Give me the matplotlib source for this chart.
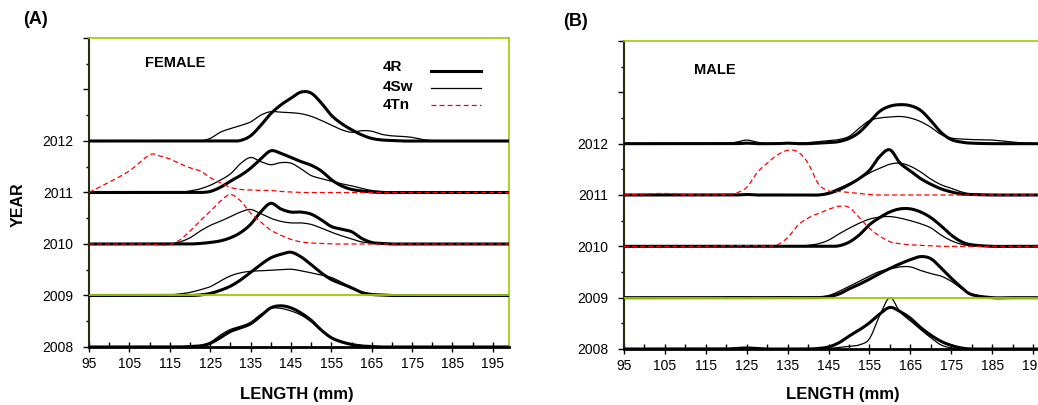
import numpy as np
import matplotlib
matplotlib.use('Agg')
import matplotlib.pyplot as plt

plt.rcParams['font.family'] = ['Liberation Sans', 'DejaVu Sans']
plt.rcParams['lines.scale_dashes'] = False

# length classes (mm), shared by all series
length = [95, 100, 105, 110, 112.5, 115, 117.5, 120, 122.5,
          125, 127.5, 130, 132.5, 135, 137.5, 140, 142.5, 145,
          147.5, 150, 152.5, 155, 157.5, 160, 162.5, 165, 167.5,
          170, 172.5, 175, 177.5, 180, 185, 190, 195, 200]
years = [2008, 2009, 2010, 2011, 2012]
labels = ['4R', '4Sw', '4Tn']

# relative frequency (fraction of one year step) - FEMALE
f2012_4r = [0, 0, 0, 0, 0, 0, 0, 0, 0,
            0, 0, 0, 0.01, 0.1, 0.3, 0.53, 0.7, 0.83,
            0.95, 0.93, 0.74, 0.5, 0.34, 0.22, 0.12, 0.05, 0.02,
            0.01, 0, 0, 0, 0, 0, 0, 0, 0]
f2012_4sw = [0, 0, 0, 0, 0, 0, 0, 0, 0,
             0.05, 0.17, 0.24, 0.3, 0.37, 0.5, 0.57, 0.56, 0.55,
             0.53, 0.48, 0.4, 0.31, 0.22, 0.17, 0.2, 0.19, 0.13,
             0.1, 0.09, 0.07, 0.03, 0.01, 0, 0, 0, 0]
f2011_4r = [0, 0, 0, 0, 0, 0, 0, 0, 0,
            0.02, 0.1, 0.22, 0.33, 0.47, 0.65, 0.81, 0.76, 0.68,
            0.6, 0.53, 0.42, 0.25, 0.13, 0.06, 0.03, 0.01, 0,
            0, 0, 0, 0, 0, 0, 0, 0, 0]
f2011_4sw = [0, 0, 0, 0, 0, 0, 0, 0.03, 0.07,
             0.14, 0.24, 0.36, 0.56, 0.68, 0.6, 0.54, 0.58, 0.57,
             0.46, 0.33, 0.27, 0.22, 0.17, 0.13, 0.08, 0.04, 0.02,
             0.01, 0, 0, 0, 0, 0, 0, 0, 0]
f2011_4tn = [0, 0.2, 0.42, 0.73, 0.71, 0.65, 0.56, 0.48, 0.42,
             0.29, 0.19, 0.1, 0.06, 0.05, 0.04, 0.04, 0.02, 0.01,
             0, 0, 0, 0, 0, 0, 0, 0, 0,
             0, 0, 0, 0, 0, 0, 0, 0, 0]
f2010_4r = [0, 0, 0, 0, 0, 0, 0, 0, 0.01,
            0.03, 0.06, 0.12, 0.22, 0.38, 0.62, 0.79, 0.68, 0.62,
            0.62, 0.58, 0.47, 0.34, 0.29, 0.24, 0.11, 0.03, 0.01,
            0, 0, 0, 0, 0, 0, 0, 0, 0]
f2010_4sw = [0, 0, 0, 0, 0, 0, 0.04, 0.12, 0.25,
             0.36, 0.44, 0.53, 0.62, 0.67, 0.59, 0.5, 0.44, 0.41,
             0.41, 0.38, 0.31, 0.23, 0.16, 0.1, 0.04, 0.02, 0.01,
             0, 0, 0, 0, 0, 0, 0, 0, 0]
f2010_4tn = [0, 0, 0, 0, -0.02, -0.01, 0.08, 0.25, 0.45,
             0.63, 0.83, 0.96, 0.84, 0.6, 0.43, 0.27, 0.17, 0.09,
             0.04, 0.02, 0.01, 0, 0, 0, 0, 0, 0,
             0, 0, 0, 0, 0, 0, 0, 0, 0]
f2009_4r = [0, 0, 0, 0, 0, 0, 0, 0, 0.01,
            0.04, 0.1, 0.18, 0.3, 0.45, 0.6, 0.73, 0.8, 0.84,
            0.75, 0.6, 0.44, 0.31, 0.23, 0.15, 0.06, 0.02, 0.01,
            0, 0, 0, 0, 0, 0, 0, 0, 0]
f2009_4sw = [0, 0, 0, 0, 0, 0.01, 0.03, 0.06, 0.11,
             0.17, 0.28, 0.38, 0.44, 0.47, 0.48, 0.49, 0.5, 0.51,
             0.48, 0.44, 0.4, 0.35, 0.26, 0.16, 0.07, 0.02, 0.01,
             0, 0, 0, 0, 0, 0, 0, 0, 0]
f2008_4r = [0, 0, 0, 0, 0, 0, 0, 0.01, 0.02,
            0.07, 0.18, 0.3, 0.37, 0.45, 0.6, 0.76, 0.8, 0.76,
            0.66, 0.52, 0.33, 0.18, 0.1, 0.05, 0.02, 0.01, 0,
            0, 0, 0, 0, 0, 0, 0, 0, 0]
f2008_4sw = [0, 0, 0, 0, 0, 0, 0, 0.01, 0.03,
             0.09, 0.23, 0.34, 0.4, 0.48, 0.63, 0.75, 0.75, 0.7,
             0.62, 0.49, 0.32, 0.19, 0.11, 0.06, 0.03, 0.01, 0,
             0, 0, 0, 0, 0, 0, 0, 0, 0]

# MALE
m2012_4r = [0, 0, 0, 0, 0, 0, 0, 0, 0,
            0.01, 0, 0, 0, 0.01, 0, 0, 0.01, 0.02,
            0.04, 0.1, 0.22, 0.42, 0.63, 0.73, 0.76, 0.74, 0.65,
            0.45, 0.22, 0.08, 0.03, 0.01, 0, 0, 0, 0]
m2012_4sw = [0, 0, 0, 0, 0, 0, 0, 0, 0.03,
             0.07, 0.03, 0, 0.01, 0.02, 0.01, 0.02, 0.04, 0.06,
             0.08, 0.14, 0.3, 0.45, 0.5, 0.52, 0.53, 0.5, 0.43,
             0.32, 0.18, 0.11, 0.09, 0.08, 0.07, 0.03, 0, 0]
m2011_4r = [0, 0, 0, 0, 0, 0, 0, 0, 0,
            0.01, 0, 0, 0, 0, 0, 0, 0, 0.03,
            0.1, 0.2, 0.32, 0.48, 0.75, 0.88, 0.62, 0.47, 0.32,
            0.21, 0.12, 0.06, 0.02, 0.01, 0, 0, 0, 0]
m2011_4sw = [0, 0, 0, 0, 0, 0, 0, 0, 0,
             0, 0, 0, 0, 0, 0, 0, 0, 0.05,
             0.13, 0.22, 0.32, 0.43, 0.52, 0.6, 0.62, 0.56, 0.45,
             0.31, 0.2, 0.13, 0.06, 0.02, 0, 0, 0, 0]
m2011_4tn = [0, 0.02, 0.03, 0.01, 0, 0, 0, 0.01, 0.04,
             0.15, 0.43, 0.62, 0.78, 0.87, 0.84, 0.62, 0.22, 0.08,
             0.07, 0.05, 0.03, 0.01, 0, 0, 0, 0, 0,
             0, 0, 0, 0, 0, 0, 0, 0, 0]
m2010_4r = [0, 0, 0, 0, 0, 0, 0, 0, 0,
            0, 0, 0, 0, 0, 0, 0, 0, 0,
            0.01, 0.08, 0.22, 0.42, 0.56, 0.67, 0.73, 0.73, 0.67,
            0.56, 0.4, 0.22, 0.09, 0.03, 0, 0, 0, 0]
m2010_4sw = [0, 0, 0, 0, 0, 0, 0, 0, 0,
             0.01, 0.01, 0.01, 0.01, 0, 0, 0.02, 0.05, 0.12,
             0.24, 0.35, 0.45, 0.53, 0.57, 0.58, 0.55, 0.5, 0.44,
             0.36, 0.22, 0.11, 0.04, 0.01, 0, 0, 0, 0]
m2010_4tn = [0, 0, 0, 0, 0, 0, 0, 0.01, 0.01,
             0.01, 0.01, 0, 0.03, 0.17, 0.41, 0.55, 0.64, 0.72,
             0.78, 0.76, 0.56, 0.35, 0.2, 0.09, 0.05, 0.03, 0.02,
             0.01, 0, 0, 0, 0, 0, 0, 0, 0]
m2009_4r = [0, 0, 0, 0, 0, 0, 0, 0, 0,
            0, 0, 0, 0, 0, 0, 0, 0, 0.02,
            0.07, 0.17, 0.26, 0.36, 0.47, 0.57, 0.66, 0.74, 0.8,
            0.76, 0.58, 0.38, 0.2, 0.06, 0, 0, 0, 0]
m2009_4sw = [0, 0, 0, 0, 0, 0, 0, 0.01, 0.01,
             0.01, 0, 0, 0.01, 0.01, 0, 0, 0.01, 0.04,
             0.12, 0.22, 0.32, 0.42, 0.51, 0.56, 0.6, 0.6, 0.53,
             0.47, 0.42, 0.32, 0.18, 0.07, 0, 0, 0, 0]
m2008_4r = [0, 0, 0, 0, 0, 0, 0, 0, 0.01,
            0.02, 0.01, 0, 0, 0, 0, 0, 0.01, 0.04,
            0.12, 0.25, 0.37, 0.51, 0.68, 0.81, 0.73, 0.6, 0.42,
            0.27, 0.15, 0.07, 0.02, 0, 0, 0, 0, 0]
m2008_4sw = [0, 0, 0, 0, 0, 0, 0, 0, 0,
             0.01, 0, 0, 0, 0, 0, 0, 0, 0.01,
             0.03, 0.05, 0.08, 0.2, 0.65, 1.0, 0.72, 0.55, 0.38,
             0.22, 0.08, 0.02, 0, 0, 0, 0, 0, 0]

female_4r = [f2008_4r, f2009_4r, f2010_4r, f2011_4r, f2012_4r]
female_4sw = [f2008_4sw, f2009_4sw, f2010_4sw, f2011_4sw, f2012_4sw]
female_4tn = {2010: f2010_4tn, 2011: f2011_4tn}
male_4r = [m2008_4r, m2009_4r, m2010_4r, m2011_4r, m2012_4r]
male_4sw = [m2008_4sw, m2009_4sw, m2010_4sw, m2011_4sw, m2012_4sw]
male_4tn = {2010: m2010_4tn, 2011: m2011_4tn}


def smooth(x, y, n=14):
    # excel style smoothed line (cardinal bezier through the points)
    x = np.asarray(x, float)
    y = np.asarray(y, float)
    xp = np.r_[x[0], x, x[-1]]
    yp = np.r_[y[0], y, y[-1]]
    t = np.linspace(0, 1, n, endpoint=False)[:, None]
    out = []
    for p in (xp, yp):
        p0, p1, p2, p3 = p[:-3], p[1:-2], p[2:-1], p[3:]
        c1 = p1 + (p2 - p0) / 6
        c2 = p2 - (p3 - p1) / 6
        b = (1-t)**3*p1 + 3*(1-t)**2*t*c1 + 3*(1-t)*t**2*c2 + t**3*p2
        out.append(np.r_[b.T.ravel(), p[-1]])
    return out


green = '#99cc00'
s_4r = dict(color='black', lw=2.2, zorder=3)
s_4sw = dict(color='black', lw=0.9, zorder=3)
s_4tn = dict(color='#ff0000', lw=0.9, dashes=(3.6, 2.2), zorder=6)


def panel(ax, r, sw, tn, xmax):
    hs = []
    for yr, a, b in zip(years, r, sw):
        xs, ys = smooth(length, a)
        h1, = ax.plot(xs, yr + ys, **s_4r)
        xs, ys = smooth(length, b)
        h2, = ax.plot(xs, yr + ys, **s_4sw)
        hs = [h1, h2]
    for yr, c in tn.items():
        xs, ys = smooth(length, c)
        h3, = ax.plot(xs, yr + ys, **s_4tn)
    hs.append(h3)
    ax.axhline(2009, color=green, lw=1.3, zorder=4)

    ax.set_xlim(95, xmax)
    ax.set_ylim(2008, 2014)
    ax.set_xticks([95, 105, 115, 125, 135, 145, 155, 165, 175, 185, 195])
    ax.set_xticks([100, 110, 120, 130, 140, 150, 160, 170, 180, 190], minor=True)
    ax.set_yticks([2008, 2009, 2010, 2011, 2012, 2013, 2014])
    ax.set_yticklabels(['2008', '2009', '2010', '2011', '2012', '', ''])
    ax.set_yticks([2008.5, 2009.5, 2010.5, 2011.5, 2012.5, 2013.5], minor=True)
    ax.tick_params(axis='x', which='major', direction='inout', length=7, width=1,
                   labelsize=10, pad=4)
    ax.tick_params(axis='x', which='minor', direction='in', length=3.5, width=1)
    ax.tick_params(axis='y', which='major', direction='out', length=4.3, width=1,
                   labelsize=10, pad=7)
    ax.tick_params(axis='y', which='minor', direction='out', length=2.2, width=1)
    ax.spines['left'].set_color('#2a2a10')
    ax.spines['left'].set_linewidth(1.5)
    ax.spines['bottom'].set_color('black')
    ax.spines['bottom'].set_linewidth(2)
    ax.spines['top'].set_color(green)
    ax.spines['right'].set_color(green)
    ax.spines['top'].set_linewidth(1.2)
    ax.spines['right'].set_linewidth(1.2)
    return hs


fig = plt.figure(figsize=(10.38, 4.05), dpi=100)
axA = fig.add_axes([89/1038, 58/405, 420/1038, 309/405])
axB = fig.add_axes([624/1038, 56/405, 429.5/1038, 308/405])

hA = panel(axA, female_4r, female_4sw, female_4tn, 199)
panel(axB, male_4r, male_4sw, male_4tn, 200)

axA.text(108.9, 2013.52, 'FEMALE', weight='bold', size=10.5, va='center')
axB.text(112.1, 2013.44, 'MALE', weight='bold', size=10.5, va='center')

# legend keys (library drawn), labels left aligned beside them
axA.legend(hA, ['', '', ''], loc='upper left', bbox_to_anchor=(0.814, 0.912),
           frameon=False, handlelength=3.3, handletextpad=0,
           labelspacing=0.2, borderpad=0, borderaxespad=0,
           prop=dict(weight='bold', size=11))
for lab, yy in zip(labels, [0.906, 0.842, 0.783]):
    axA.text(0.70, yy, lab, transform=axA.transAxes, weight='bold', size=11,
             va='center', ha='left')

fig.text(23/1038, 1-19/405, '(A)', weight='bold', size=13, va='center')
fig.text(563/1038, 1-21/405, '(B)', weight='bold', size=13, va='center')
fig.text(18/1038, 1-205/405, 'YEAR', rotation=90, weight='bold', size=11.5,
         ha='center', va='center')
fig.text(297/1038, 1-394/405, 'LENGTH (mm)', weight='bold', size=12,
         ha='center', va='center')
fig.text(843/1038, 1-395/405, 'LENGTH (mm)', weight='bold', size=12,
         ha='center', va='center')

fig.savefig('out.png', dpi=100)
